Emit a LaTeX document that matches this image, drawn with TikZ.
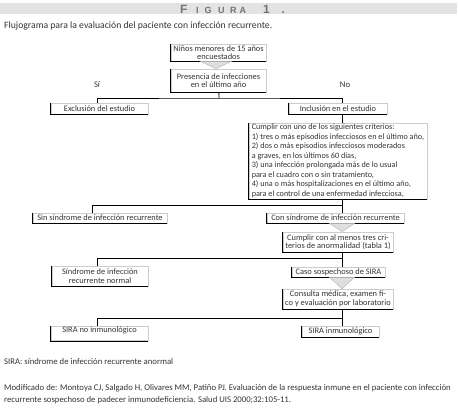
\documentclass[tikz,border=0pt]{standalone}
\usepackage{fontspec}
\setmainfont{Carlito}
\newfontfamily\titlefont{Liberation Sans}
\usetikzlibrary{calc}
\tikzset{
  box/.style={draw=gray!40, line width=0.6pt, inner sep=1pt, text=black!80,
    font=\fontsize{8.4}{8.6}\selectfont, align=center},
  link/.style={black, line width=0.8pt},
  tri/.style={fill=gray!25, draw=gray!55, line width=0.5pt},
  note/.style={text=black!80, font=\fontsize{8.7}{12}\selectfont}
}
\begin{document}
\begin{tikzpicture}[x=1pt,y=-1pt]
\useasboundingbox (0,0) rectangle (459,417);
% titulo
\fill[gray!22] (0,3) rectangle (457,14);
\node[anchor=west, inner sep=0pt, text=black!55, font=\titlefont\bfseries\fontsize{12}{12}\selectfont] (fig) at (180,9)
  {F\kern8.5pt{\fontsize{9}{12}\selectfont I\kern6pt G\kern6.5pt U\kern5.5pt R\kern3pt A}\kern17pt 1\kern12pt.};
\node[anchor=west, inner sep=0pt, text=black!80, font=\fontsize{9.7}{10}\selectfont] (sub) at (4,26) {Flujograma para la evaluación del paciente con infección recurrente.};

% cajas
\node[box, minimum width=95, minimum height=17] (n1) at (218.5,52.5) {Niños menores de 15 años\\encuestados};
\node[box, minimum width=95, minimum height=23] (n2) at (218.5,80.5) {Presencia de infecciones\\en el último año};
\node[box, minimum width=97, minimum height=11] (excl) at (99.5,108.5) {Exclusión del estudio};
\node[box, minimum width=98, minimum height=11] (incl) at (338,108.5) {Inclusión en el estudio};
\node[box, minimum width=178, minimum height=76, align=left, inner sep=0.5pt, font=\fontsize{8.2}{9.5}\selectfont] (crit) at (338,161) {Cumplir con uno de los siguientes criterios:\\
1) tres o más episodios infecciosos en el último año,\\
2) dos o más episodios infecciosos moderados\\
a graves, en los últimos 60 días,\\
3) una infección prolongada más de lo usual\\
para el cuadro con o sin tratamiento,\\
4) una o más hospitalizaciones en el último año,\\
para el control de una enfermedad infecciosa,};
\node[box, minimum width=134, minimum height=10] (sin) at (100,218) {Sin síndrome de infección recurrente};
\node[box, minimum width=137, minimum height=10] (con) at (335.5,218) {Con síndrome de infección recurrente};
\node[box, minimum width=110, minimum height=20] (cumplir) at (338,242) {Cumplir con al menos tres cri-\\terios de anormalidad (tabla 1)};
\node[box, minimum width=96, minimum height=20] (normal) at (100,276) {Síndrome de infección\\recurrente normal};
\node[box, minimum width=93, minimum height=10] (caso) at (338.5,272) {Caso sospechoso de SIRA};
\node[box, minimum width=110, minimum height=20] (consulta) at (338,299) {Consulta médica, examen fí-\\co y evaluación por laboratorio};
\node[box, minimum width=97, text height=5.5pt, text depth=7pt] (sirano) at (99.5,333.5) {SIRA no inmunológico};
\node[box, minimum width=77, minimum height=11] (siraim) at (340.5,331.5) {SIRA inmunológico};

% bordes oscuros
\foreach \b in {n1,n2,excl,incl,crit,sin,con,cumplir,normal,caso,consulta,sirano,siraim}
  \draw[black, line width=0.7pt] (\b.north west) |- (\b.south east);

\node[note] (si) at (97,85) {Sí};
\node[note] (no) at (345,85) {No};

% uniones
\coordinate (j1) at (219,98);
\coordinate (j2) at (342,205);
\coordinate (j3) at (342,258);
\coordinate (j4) at (342,318);
\draw[link] (n2) -- (j1);
\draw[link] ([xshift=-2.5pt]excl.north) |- (j1) -| ([xshift=4pt]incl.north);
\draw[link] ([xshift=4pt]incl.south) -- ([xshift=4pt]crit.north);
\draw[link] ([xshift=4pt]crit.south) -- (j2);
\draw[link] ([xshift=-8pt]sin.north) |- (j2) -| ([xshift=6.5pt]con.north);
\draw[link] ([xshift=4pt]cumplir.south) -- (j3);
\draw[link] ([xshift=-3pt]normal.north) |- (j3) -| ([xshift=3.5pt]caso.north);
\draw[link] ([xshift=4pt]consulta.south) -- (j4);
\draw[link] ([xshift=-2.5pt]sirano.north) |- (j4) -| ([xshift=1.5pt]siraim.north);

% flechas triangulares
\filldraw[tri] ($(n1.south)+(-18,0)$) -- ($(n1.south)+(13,0)$) -- ($(n2.north)+(-2.5,0)$) -- cycle;
\filldraw[tri] ($(con.south -| j2)+(-12.5,0)$) -- ($(con.south -| j2)+(12.5,0)$) -- (cumplir.north -| j2) -- cycle;
\filldraw[tri] ($(caso.south -| j2)+(-12.5,0)$) -- ($(caso.south -| j2)+(12.5,0)$) -- (consulta.north -| j2) -- cycle;

% notas
\node[note, anchor=west, inner sep=0pt] (nota) at (4,362) {SIRA: síndrome de infección recurrente anormal};
\node[note, anchor=north west, align=left, inner sep=0pt] (ref) at (4,384) {Modificado de: Montoya CJ, Salgado H, Olivares MM, Patiño PJ. Evaluación de la respuesta inmune en el paciente con infección\\recurrente sospechoso de padecer inmunodeficiencia. Salud UIS 2000;32:105-11.};
\end{tikzpicture}
\end{document}
